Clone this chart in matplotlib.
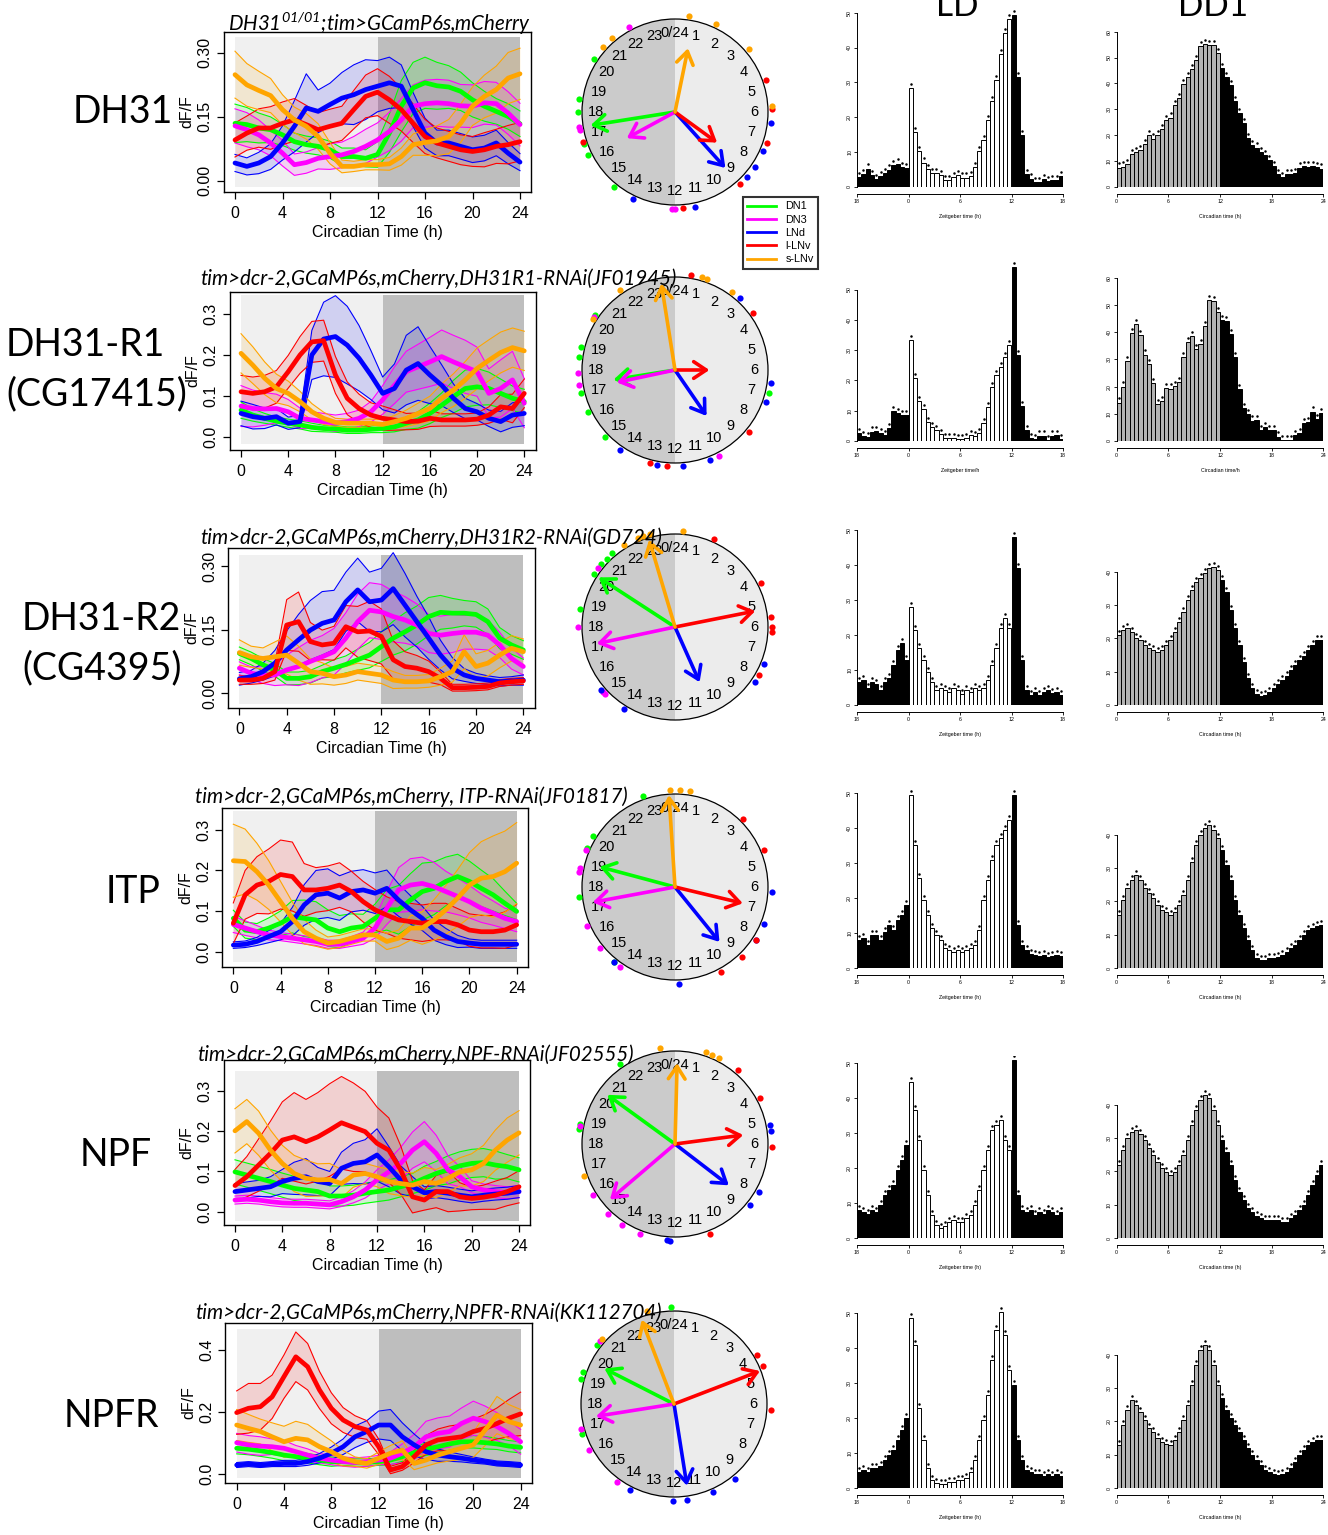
import numpy as np
import matplotlib
matplotlib.use("Agg")
import matplotlib.pyplot as plt
from matplotlib.patches import Wedge, Circle, Rectangle, FancyArrowPatch
from matplotlib.lines import Line2D
from matplotlib.transforms import ScaledTranslation

plt.rcParams['font.family'] = ['Liberation Sans', 'DejaVu Sans']
plt.rcParams['mathtext.fontset'] = 'custom'
plt.rcParams['mathtext.rm'] = 'Lato:italic'
plt.rcParams['mathtext.it'] = 'Lato:italic'

W, H = 1328, 1535
ct = np.arange(25)
cells = ["DN1", "DN3", "LNd", "l-LNv", "s-LNv"]
cell_colors = {"DN1": "#00ff00", "DN3": "#ff00ff", "LNd": "#0000ff",
               "l-LNv": "#ff0000", "s-LNv": "#ffa500"}

# ---- calcium traces: hourly mean dF/F and sem per cell group ----
dh31_mean = {
    "DN1": [0.135,0.132,0.124,0.12,0.108,0.092,0.085,0.081,0.073,0.057,0.057,0.053,0.062,0.112,0.175,0.218,0.23,0.223,0.22,0.21,0.19,0.175,0.163,0.151,0.134],
    "DN3": [0.129,0.12,0.108,0.089,0.065,0.038,0.043,0.053,0.057,0.061,0.069,0.081,0.096,0.116,0.143,0.175,0.181,0.183,0.181,0.176,0.175,0.183,0.181,0.159,0.132],
    "LNd": [0.042,0.034,0.042,0.057,0.089,0.128,0.171,0.163,0.179,0.194,0.202,0.214,0.222,0.23,0.222,0.167,0.112,0.089,0.089,0.081,0.073,0.077,0.089,0.065,0.044],
    "l-LNv": [0.096,0.112,0.124,0.124,0.135,0.143,0.132,0.12,0.128,0.135,0.167,0.198,0.208,0.19,0.167,0.135,0.104,0.089,0.081,0.073,0.069,0.073,0.081,0.085,0.092],
    "s-LNv": [0.249,0.225,0.212,0.2,0.167,0.143,0.128,0.104,0.065,0.034,0.034,0.038,0.038,0.04,0.057,0.085,0.09,0.094,0.104,0.135,0.175,0.198,0.214,0.241,0.251],
}
dh31_sem = {
    "DN1": [0.045,0.04,0.035,0.03,0.025,0.02,0.02,0.02,0.02,0.02,0.02,0.02,0.03,0.045,0.06,0.06,0.06,0.055,0.05,0.045,0.04,0.035,0.03,0.03,0.03],
    "DN3": [0.04,0.04,0.035,0.03,0.03,0.025,0.025,0.025,0.03,0.03,0.035,0.04,0.04,0.045,0.05,0.05,0.055,0.055,0.055,0.05,0.05,0.05,0.05,0.05,0.05],
    "LNd": [0.02,0.02,0.025,0.03,0.04,0.06,0.08,0.05,0.05,0.06,0.07,0.07,0.06,0.06,0.05,0.04,0.035,0.03,0.03,0.03,0.03,0.03,0.03,0.025,0.02],
    "l-LNv": [0.04,0.04,0.045,0.05,0.05,0.05,0.045,0.04,0.04,0.04,0.045,0.05,0.055,0.055,0.05,0.045,0.04,0.035,0.035,0.035,0.035,0.04,0.04,0.045,0.045],
    "s-LNv": [0.055,0.05,0.045,0.04,0.035,0.03,0.03,0.03,0.025,0.015,0.012,0.012,0.012,0.015,0.02,0.025,0.03,0.035,0.04,0.045,0.045,0.05,0.055,0.06,0.06],
}
r1_mean = {
    "DN1": [0.065,0.053,0.045,0.038,0.033,0.029,0.023,0.02,0.019,0.016,0.016,0.018,0.02,0.024,0.033,0.041,0.057,0.077,0.098,0.118,0.122,0.118,0.106,0.094,0.086],
    "DN3": [0.075,0.069,0.068,0.069,0.061,0.045,0.041,0.037,0.033,0.037,0.045,0.061,0.09,0.126,0.159,0.171,0.183,0.196,0.183,0.171,0.159,0.106,0.118,0.139,0.082],
    "LNd": [0.057,0.049,0.045,0.049,0.033,0.037,0.2,0.239,0.245,0.224,0.192,0.151,0.106,0.118,0.163,0.179,0.151,0.126,0.094,0.069,0.061,0.045,0.037,0.053,0.057],
    "l-LNv": [0.11,0.106,0.11,0.122,0.159,0.2,0.232,0.235,0.151,0.094,0.069,0.053,0.045,0.041,0.037,0.038,0.045,0.041,0.041,0.041,0.043,0.053,0.073,0.069,0.106],
    "s-LNv": [0.204,0.175,0.143,0.118,0.106,0.086,0.061,0.045,0.035,0.033,0.033,0.033,0.03,0.037,0.045,0.057,0.069,0.094,0.114,0.139,0.167,0.187,0.206,0.218,0.21],
}
r1_sem = {
    "DN1": [0.02,0.015,0.012,0.01,0.01,0.01,0.01,0.008,0.008,0.008,0.008,0.008,0.01,0.012,0.015,0.02,0.025,0.03,0.04,0.045,0.045,0.04,0.035,0.03,0.03],
    "DN3": [0.05,0.045,0.04,0.035,0.03,0.025,0.02,0.02,0.02,0.02,0.02,0.025,0.035,0.045,0.05,0.055,0.06,0.065,0.065,0.065,0.06,0.06,0.07,0.07,0.06],
    "LNd": [0.03,0.03,0.025,0.02,0.015,0.015,0.06,0.09,0.1,0.095,0.08,0.06,0.04,0.06,0.085,0.09,0.07,0.05,0.035,0.025,0.02,0.02,0.025,0.03,0.03],
    "l-LNv": [0.04,0.04,0.04,0.04,0.04,0.045,0.05,0.05,0.045,0.04,0.035,0.03,0.03,0.025,0.02,0.02,0.02,0.015,0.015,0.015,0.015,0.02,0.03,0.035,0.035],
    "s-LNv": [0.048,0.045,0.04,0.035,0.03,0.025,0.02,0.015,0.01,0.01,0.01,0.01,0.012,0.015,0.02,0.025,0.03,0.035,0.04,0.045,0.05,0.05,0.05,0.048,0.048],
}
r2_mean = {
    "DN1": [0.094,0.082,0.067,0.055,0.035,0.035,0.039,0.051,0.059,0.068,0.079,0.09,0.11,0.13,0.145,0.161,0.181,0.191,0.189,0.189,0.186,0.169,0.13,0.114,0.102],
    "DN3": [0.059,0.047,0.043,0.043,0.055,0.063,0.075,0.086,0.098,0.13,0.169,0.196,0.192,0.181,0.173,0.161,0.141,0.137,0.141,0.144,0.144,0.137,0.114,0.082,0.063],
    "LNd": [0.034,0.039,0.051,0.071,0.102,0.126,0.149,0.165,0.173,0.216,0.244,0.216,0.22,0.247,0.208,0.169,0.13,0.09,0.059,0.043,0.035,0.031,0.027,0.029,0.031],
    "l-LNv": [0.031,0.031,0.035,0.051,0.161,0.169,0.122,0.114,0.118,0.157,0.145,0.147,0.134,0.079,0.063,0.059,0.051,0.035,0.013,0.013,0.014,0.016,0.024,0.027,0.029],
    "s-LNv": [0.096,0.086,0.082,0.086,0.09,0.071,0.051,0.047,0.039,0.043,0.051,0.047,0.043,0.031,0.027,0.027,0.029,0.039,0.051,0.098,0.063,0.071,0.09,0.106,0.098],
}
r2_sem = {
    "DN1": [0.015,0.015,0.015,0.015,0.015,0.015,0.015,0.015,0.02,0.02,0.025,0.03,0.035,0.04,0.045,0.045,0.045,0.04,0.035,0.03,0.03,0.03,0.025,0.022,0.022],
    "DN3": [0.015,0.015,0.02,0.025,0.035,0.045,0.05,0.05,0.055,0.06,0.065,0.065,0.065,0.06,0.055,0.05,0.045,0.045,0.045,0.04,0.04,0.035,0.03,0.025,0.02],
    "LNd": [0.015,0.015,0.02,0.03,0.045,0.06,0.07,0.075,0.07,0.07,0.075,0.07,0.075,0.085,0.075,0.06,0.05,0.035,0.025,0.015,0.012,0.01,0.01,0.01,0.012],
    "l-LNv": [0.01,0.01,0.012,0.02,0.06,0.07,0.045,0.035,0.04,0.05,0.06,0.07,0.065,0.045,0.035,0.03,0.025,0.015,0.008,0.008,0.008,0.008,0.008,0.008,0.008],
    "s-LNv": [0.03,0.025,0.025,0.035,0.045,0.04,0.03,0.025,0.02,0.02,0.02,0.02,0.02,0.02,0.015,0.015,0.015,0.02,0.025,0.04,0.03,0.03,0.03,0.03,0.03],
}
itp_mean = {
    "DN1": [0.082,0.053,0.049,0.058,0.07,0.086,0.082,0.078,0.058,0.049,0.058,0.062,0.082,0.103,0.103,0.127,0.148,0.156,0.173,0.185,0.173,0.156,0.14,0.119,0.099],
    "DN3": [0.067,0.058,0.049,0.041,0.037,0.033,0.029,0.025,0.018,0.018,0.025,0.033,0.058,0.107,0.152,0.164,0.168,0.16,0.148,0.136,0.123,0.107,0.095,0.082,0.074],
    "LNd": [0.016,0.018,0.025,0.037,0.049,0.074,0.115,0.14,0.144,0.132,0.148,0.152,0.144,0.156,0.127,0.103,0.082,0.053,0.037,0.025,0.021,0.018,0.018,0.018,0.018],
    "l-LNv": [0.07,0.14,0.164,0.173,0.19,0.185,0.152,0.152,0.156,0.164,0.148,0.123,0.103,0.09,0.078,0.074,0.07,0.074,0.074,0.066,0.053,0.049,0.049,0.053,0.066],
    "s-LNv": [0.224,0.222,0.197,0.164,0.123,0.082,0.049,0.033,0.021,0.025,0.033,0.041,0.041,0.025,0.033,0.058,0.058,0.078,0.103,0.132,0.164,0.181,0.185,0.197,0.218],
}
itp_sem = {
    "DN1": [0.02,0.02,0.02,0.025,0.03,0.04,0.045,0.045,0.045,0.04,0.035,0.03,0.035,0.05,0.06,0.065,0.07,0.065,0.06,0.055,0.05,0.045,0.04,0.03,0.02],
    "DN3": [0.02,0.018,0.015,0.012,0.01,0.01,0.01,0.01,0.01,0.01,0.012,0.015,0.025,0.04,0.055,0.065,0.065,0.06,0.05,0.045,0.04,0.035,0.03,0.025,0.025],
    "LNd": [0.008,0.008,0.01,0.015,0.02,0.035,0.05,0.06,0.06,0.055,0.05,0.05,0.05,0.045,0.04,0.035,0.03,0.025,0.02,0.015,0.01,0.01,0.01,0.01,0.01],
    "l-LNv": [0.05,0.06,0.07,0.08,0.085,0.085,0.065,0.055,0.055,0.055,0.05,0.05,0.05,0.045,0.045,0.045,0.045,0.045,0.045,0.04,0.04,0.04,0.04,0.045,0.05],
    "s-LNv": [0.09,0.08,0.07,0.06,0.05,0.04,0.03,0.02,0.015,0.015,0.015,0.015,0.015,0.02,0.02,0.03,0.04,0.05,0.06,0.07,0.08,0.09,0.1,0.1,0.1],
}
npf_mean = {
    "DN1": [0.099,0.091,0.083,0.075,0.066,0.058,0.054,0.05,0.039,0.039,0.041,0.046,0.05,0.054,0.062,0.07,0.083,0.095,0.104,0.114,0.12,0.122,0.116,0.112,0.104],
    "DN3": [0.029,0.031,0.029,0.025,0.022,0.021,0.021,0.019,0.017,0.025,0.037,0.054,0.079,0.099,0.12,0.153,0.174,0.145,0.104,0.087,0.062,0.054,0.05,0.047,0.05],
    "LNd": [0.05,0.054,0.058,0.062,0.075,0.083,0.087,0.075,0.07,0.108,0.12,0.124,0.141,0.112,0.079,0.062,0.047,0.05,0.046,0.041,0.037,0.041,0.044,0.046,0.05],
    "l-LNv": [0.065,0.087,0.116,0.145,0.178,0.186,0.174,0.186,0.203,0.221,0.21,0.199,0.17,0.153,0.104,0.037,0.029,0.05,0.05,0.037,0.033,0.036,0.041,0.05,0.062],
    "s-LNv": [0.201,0.224,0.195,0.153,0.12,0.095,0.083,0.079,0.08,0.07,0.091,0.095,0.087,0.075,0.07,0.066,0.075,0.07,0.083,0.099,0.104,0.12,0.153,0.178,0.196],
}
npf_sem = {
    "DN1": [0.03,0.03,0.03,0.03,0.03,0.03,0.03,0.03,0.025,0.025,0.025,0.025,0.025,0.025,0.025,0.025,0.03,0.03,0.035,0.035,0.035,0.035,0.035,0.03,0.03],
    "DN3": [0.01,0.01,0.01,0.01,0.01,0.01,0.01,0.01,0.01,0.012,0.015,0.02,0.025,0.03,0.04,0.045,0.05,0.045,0.035,0.025,0.015,0.015,0.015,0.015,0.015],
    "LNd": [0.02,0.02,0.02,0.025,0.03,0.04,0.045,0.035,0.03,0.04,0.05,0.055,0.065,0.05,0.035,0.025,0.015,0.015,0.015,0.015,0.015,0.015,0.015,0.015,0.015],
    "l-LNv": [0.04,0.05,0.065,0.08,0.095,0.11,0.105,0.11,0.115,0.115,0.11,0.1,0.09,0.08,0.06,0.04,0.025,0.04,0.05,0.035,0.028,0.03,0.035,0.035,0.04],
    "s-LNv": [0.055,0.055,0.055,0.05,0.045,0.045,0.045,0.04,0.04,0.035,0.03,0.025,0.025,0.03,0.03,0.03,0.035,0.035,0.035,0.035,0.04,0.045,0.05,0.055,0.055],
}
npfr_mean = {
    "DN1": [0.083,0.08,0.075,0.069,0.061,0.056,0.051,0.045,0.04,0.04,0.037,0.037,0.04,0.045,0.056,0.069,0.08,0.088,0.097,0.104,0.104,0.101,0.097,0.09,0.086],
    "DN3": [0.101,0.094,0.09,0.088,0.083,0.072,0.061,0.051,0.045,0.04,0.037,0.04,0.045,0.051,0.067,0.088,0.12,0.131,0.137,0.163,0.18,0.169,0.153,0.131,0.104],
    "LNd": [0.029,0.032,0.029,0.032,0.034,0.034,0.04,0.051,0.067,0.088,0.12,0.137,0.158,0.158,0.12,0.094,0.072,0.061,0.056,0.051,0.045,0.04,0.034,0.032,0.029],
    "l-LNv": [0.198,0.212,0.217,0.249,0.314,0.378,0.346,0.271,0.212,0.174,0.153,0.142,0.088,0.013,0.024,0.056,0.094,0.11,0.115,0.12,0.137,0.147,0.163,0.18,0.194],
    "s-LNv": [0.158,0.147,0.137,0.12,0.104,0.115,0.11,0.088,0.072,0.051,0.04,0.034,0.051,0.067,0.077,0.034,0.045,0.061,0.072,0.083,0.094,0.142,0.19,0.169,0.158],
}
npfr_sem = {
    "DN1": [0.018,0.018,0.018,0.018,0.018,0.018,0.015,0.015,0.015,0.012,0.012,0.012,0.012,0.015,0.015,0.018,0.02,0.02,0.02,0.02,0.02,0.02,0.018,0.018,0.018],
    "DN3": [0.03,0.03,0.03,0.025,0.025,0.02,0.02,0.015,0.015,0.015,0.015,0.015,0.015,0.02,0.03,0.04,0.05,0.05,0.05,0.05,0.055,0.05,0.045,0.04,0.04],
    "LNd": [0.008,0.008,0.008,0.008,0.01,0.01,0.012,0.015,0.02,0.025,0.035,0.035,0.045,0.05,0.045,0.035,0.025,0.02,0.015,0.012,0.01,0.008,0.008,0.008,0.008],
    "l-LNv": [0.07,0.08,0.075,0.07,0.07,0.08,0.075,0.06,0.05,0.04,0.035,0.03,0.025,0.012,0.012,0.02,0.03,0.035,0.04,0.04,0.04,0.045,0.05,0.06,0.07],
    "s-LNv": [0.05,0.045,0.04,0.045,0.05,0.055,0.05,0.045,0.035,0.025,0.015,0.015,0.02,0.025,0.03,0.02,0.02,0.025,0.03,0.035,0.04,0.05,0.06,0.055,0.05],
}

# ---- phase clocks: (mean phase in h, vector length) and single-fly phases ----
dh31_vec = {"DN1": (17.4, 0.92), "DN3": (16.1, 0.59), "LNd": (9.2, 0.81), "l-LNv": (8.4, 0.56), "s-LNv": (0.77, 0.70)}
r1_vec = {"DN1": (17.4, 0.67), "DN3": (17.2, 0.64), "LNd": (9.7, 0.60), "l-LNv": (6.0, 0.37), "s-LNv": (23.4, 0.94)}
r2_vec = {"DN1": (20.2, 0.98), "DN3": (17.2, 0.86), "LNd": (10.4, 0.65), "l-LNv": (5.25, 0.88), "s-LNv": (22.9, 0.98)}
itp_vec = {"DN1": (19.0, 0.84), "DN3": (17.3, 0.90), "LNd": (9.4, 0.76), "l-LNv": (6.9, 0.75), "s-LNv": (23.75, 0.99)}
npf_vec = {"DN1": (20.4, 0.90), "DN3": (15.3, 0.92), "LNd": (8.5, 0.73), "l-LNv": (5.5, 0.74), "s-LNv": (0.1, 0.87)}
npfr_vec = {"DN1": (19.8, 0.84), "DN3": (17.4, 0.85), "LNd": (11.4, 0.89), "l-LNv": (4.6, 0.99), "s-LNv": (22.6, 0.97)}

dh31_phases = {"DN1": [20.2, 18.5, 18.0, 16.7, 16.25, 14.6], "DN3": [22.1, 17.4, 17.3, 12.1, 12.0],
               "LNd": [6.45, 7.6, 8.3, 8.8, 11.2, 13.7], "l-LNv": [4.7, 5.9, 7.25, 9.2, 11.7, 16.8],
               "s-LNv": [0.56, 1.67, 3.3, 5.75, 21.3, 20.8]}
r1_phases = {"DN1": [20.3, 18.9, 18.5, 17.1, 16.3, 15.1, 6.9], "DN3": [10.2, 17.9, 17.4, 20.2],
             "LNd": [2.8, 6.5, 7.3, 10.6, 11.7, 12.7, 14.3], "l-LNv": [0.64, 3.6, 8.65, 13.0, 12.3],
             "s-LNv": [1.1, 1.3, 2.4, 21.7, 20.1]}
r2_phases = {"DN1": [18.7, 20.2, 20.7, 21.0, 21.3], "DN3": [18.0, 15.2, 15.1, 20.5],
             "LNd": [7.5, 8.3, 14.1, 15.3], "l-LNv": [1.6, 4.2, 5.6, 6.0, 6.2, 8.0],
             "s-LNv": [0.3, 21.9, 22.5, 22.7, 23.0]}
itp_phases = {"DN1": [20.1, 19.6, 17.6, 14.6, 22.7], "DN3": [18.75, 18.6, 16.4, 15.4, 14.3, 19.5],
              "LNd": [6.2, 7.5, 8.2, 11.85, 14.6], "l-LNv": [3.0, 4.5, 8.2, 9.1, 10.1],
              "s-LNv": [23.8, 0.2, 0.6]}
npf_phases = {"DN1": [21.7, 18.8, 18.6], "DN3": [18.7, 15.9, 14.9, 14.2, 13.4],
              "LNd": [5.25, 5.5, 8.0, 8.6, 12.3, 12.2], "l-LNv": [2.7, 4.1, 6.1, 10.6],
              "s-LNv": [23.4, 1.24, 1.5, 1.8, 16.7]}
npfr_phases = {"DN1": [23.9, 20.5, 19.3, 19.0, 16.8], "DN3": [20.7, 17.0, 16.1, 14.4],
               "LNd": [9.4, 10.4, 11.5, 12.05, 13.8], "l-LNv": [3.96, 4.47, 6.25],
               "s-LNv": [20.8, 22.9]}

# ---- locomotor activity histograms (48 half-hour bins) ----
dh31_ld = [2.9,3.6,5.3,3.4,2.2,3.2,4.0,5.0,6.4,6.7,5.7,5.5, 28.4,15.8,10.3,7.0,5.1,4.0,4.1,3.4,2.1,2.1,2.9,3.3,
           2.7,2.7,3.2,5.7,10.3,13.4,19.3,24.6,30.7,38.1,44.1,48.2, 49.2,31.6,14.9,3.8,2.4,1.4,1.4,2.2,1.6,2.1,2.1,3.2]
dh31_dd = [7.5,7.9,9.0,12.6,13.6,14.4,16.7,19.9,18.7,20.1,22.3,25.7, 26.8,31.5,34.2,39.6,42.5,45.4,49.0,54.4,55.1,54.7,54.7,51.6,
           45.8,42.5,39.3,33.2,28.7,24.6,19.0,16.2,15.2,13.6,12.2,10.4, 8.1,5.1,3.9,4.9,5.1,5.5,7.5,8.1,7.9,8.1,7.7,7.1]
r1_ld = [2.5,1.6,1.2,3.1,3.4,2.5,2.0,4.2,9.9,9.1,8.6,8.6, 33.3,20.7,13.2,10.4,6.2,4.5,3.6,2.3,1.1,1.1,1.1,0.5,
         0.5,1.1,2.0,1.6,2.7,5.8,11.3,17.9,21.8,24.5,27.8,31.6, 57.3,28.4,11.5,3.6,0.9,0.5,1.8,1.8,0.3,1.8,2.0,0.5]
r1_dd = [14.1,20.0,29.5,39.8,43.0,38.9,31.8,28.3,21.2,13.5,14.8,19.6, 19.3,20.3,21.8,31.0,36.5,38.6,33.7,35.6,42.4,51.8,51.5,47.5,
         44.4,44.1,39.2,31.0,19.0,12.0,9.8,7.5,7.7,4.0,5.0,4.0, 4.0,1.6,0.4,0.4,0.4,2.2,2.8,6.7,7.1,10.8,8.0,10.2]
r2_ld = [6.6,7.1,4.9,6.6,6.0,4.3,6.6,7.7,11.4,15.7,17.7,12.9, 28.0,21.4,16.3,12.9,9.4,6.6,4.3,4.9,4.3,3.7,4.9,4.3,
         3.1,4.3,3.7,4.9,4.3,4.9,7.1,11.4,16.3,22.0,24.9,22.0, 48.0,39.1,12.9,4.3,2.9,3.7,2.9,3.7,4.3,3.4,3.7,2.9]
r2_dd = [21.0,22.5,23.1,21.9,20.1,19.5,18.0,17.1,16.5,15.9,16.5,18.0, 19.5,21.9,24.9,27.9,31.5,34.5,36.9,38.1,39.6,41.1,41.4,40.5,
         37.5,33.9,28.5,23.1,18.0,12.9,8.1,5.1,3.3,2.7,3.0,3.9, 5.1,6.3,7.5,8.7,10.5,12.0,13.5,14.7,16.5,18.0,19.5,19.5]
itp_ld = [8.0,8.6,6.6,9.4,9.4,8.0,10.3,12.3,10.9,13.7,15.1,18.0, 49.4,35.1,25.7,19.4,15.1,11.4,9.4,8.0,5.7,5.1,4.6,5.1,
          4.6,5.1,5.7,6.6,10.9,19.4,25.1,30.9,35.1,37.1,39.4,42.3, 49.4,12.3,6.6,5.1,4.0,3.7,3.4,3.7,3.1,3.4,3.7,3.4]
itp_dd = [15.9,20.4,24.0,26.4,27.9,26.4,24.0,22.5,21.0,18.9,17.4,16.8, 15.9,16.8,18.9,21.9,26.4,31.8,36.9,39.9,42.0,42.9,41.4,39.0,
          35.4,30.9,26.4,20.4,15.9,12.0,8.4,5.4,3.0,2.4,2.4,3.0, 3.0,3.3,3.9,4.8,6.0,6.9,8.4,9.9,11.4,12.0,12.6,12.9]
npf_ld = [8.0,7.4,6.9,8.0,7.4,9.4,12.3,13.7,15.1,19.4,22.3,26.6, 44.6,36.6,28.0,19.4,12.3,6.6,3.7,2.9,3.4,4.6,5.1,4.6,
          4.6,5.7,6.6,9.4,13.7,19.4,25.1,30.9,32.3,33.7,28.0,25.1, 50.9,12.3,8.0,7.4,8.0,6.6,7.4,6.9,8.0,7.4,6.6,7.4]
npf_dd = [21.9,26.4,30.0,31.8,32.4,31.2,29.4,27.0,24.9,22.8,21.0,19.8, 18.9,19.8,21.9,24.9,29.4,33.9,38.4,41.4,42.9,42.0,38.4,33.9,
          29.4,25.8,21.9,17.4,13.8,11.4,9.0,7.8,6.6,6.0,5.4,5.4, 5.4,5.4,4.8,4.8,6.0,6.9,8.4,9.9,12.9,15.9,18.9,21.9]
npfr_ld = [4.6,5.1,4.6,5.7,5.7,6.3,8.0,9.4,10.9,13.7,16.6,20.0, 48.6,40.9,22.9,13.7,5.7,2.3,1.4,1.1,1.1,1.7,1.7,2.3,
           2.3,2.9,4.6,8.0,13.7,19.4,26.6,36.6,45.1,50.3,43.7,33.7, 29.4,13.7,8.0,5.1,4.6,4.0,4.0,3.4,4.0,3.4,4.0,3.4]
npfr_dd = [12.9,18.9,23.4,26.4,24.9,22.8,20.4,18.0,16.8,15.0,13.8,13.2, 12.9,14.4,16.8,20.4,24.9,30.9,36.9,41.4,42.9,41.4,36.9,30.9,
           27.0,23.4,21.0,18.9,16.8,14.4,12.0,9.9,8.4,6.9,5.4,4.8, 4.2,3.9,4.2,4.8,6.0,7.8,9.9,11.4,12.9,13.8,14.4,14.4]

row_names = ["DH31", "DH31-R1\n(CG17415)", "DH31-R2\n(CG4395)", "ITP", "NPF", "NPFR"]
titles = [r"DH31$^{01/01}$;tim>GCamP6s,mCherry",
          "tim>dcr-2,GCaMP6s,mCherry,DH31R1-RNAi(JF01945)",
          "tim>dcr-2,GCaMP6s,mCherry,DH31R2-RNAi(GD724)",
          "tim>dcr-2,GCaMP6s,mCherry, ITP-RNAi(JF01817)",
          "tim>dcr-2,GCaMP6s,mCherry,NPF-RNAi(JF02555)",
          "tim>dcr-2,GCaMP6s,mCherry,NPFR-RNAi(KK112704)"]
means = [dh31_mean, r1_mean, r2_mean, itp_mean, npf_mean, npfr_mean]
sems = [dh31_sem, r1_sem, r2_sem, itp_sem, npf_sem, npfr_sem]
vecs = [dh31_vec, r1_vec, r2_vec, itp_vec, npf_vec, npfr_vec]
phases = [dh31_phases, r1_phases, r2_phases, itp_phases, npf_phases, npfr_phases]
ld_counts = [dh31_ld, r1_ld, r2_ld, itp_ld, npf_ld, npfr_ld]
dd_counts = [dh31_dd, r1_dd, r2_dd, itp_dd, npf_dd, npfr_dd]

# y tick sets per trace panel
ytick_sets = [([0, 0.15, 0.30], ["0.00", "0.15", "0.30"]),
              ([0, 0.1, 0.2, 0.3], ["0.0", "0.1", "0.2", "0.3"]),
              ([0, 0.15, 0.30], ["0.00", "0.15", "0.30"]),
              ([0, 0.1, 0.2, 0.3], ["0.0", "0.1", "0.2", "0.3"]),
              ([0, 0.1, 0.2, 0.3], ["0.0", "0.1", "0.2", "0.3"]),
              ([0, 0.2, 0.4], ["0.0", "0.2", "0.4"])]

# layout in pixels
trace_boxes = [(223.6, 32, 531.4, 192), (229.7, 292, 535.6, 450), (228, 548, 534.7, 708),
               (222, 808, 528, 967), (223.6, 1060, 530.4, 1225), (225.3, 1323, 532, 1483)]
trace_ylims = [(-0.026, 0.349), (-0.0325, 0.354), (-0.035, 0.343),
               (-0.038, 0.354), (-0.033, 0.377), (-0.029, 0.487)]
shade_spans = [(-0.014, 0.3375), (-0.0186, 0.346), (-0.025, 0.327),
               (-0.025, 0.346), (-0.022, 0.35), (-0.014, 0.468)]
title_pos = [(228, 24), (200, 279), (200, 538), (195, 797), (197, 1055), (195, 1313)]
# (x, y, horizontal alignment) of the row names
label_pos = [(123, 112, "center"), (6, 370, "left"), (22, 644, "left"),
             (133, 892, "center"), (116, 1155, "center"), (111, 1416, "center")]
clock_centers = [(675, 112), (675, 370), (675, 627), (675, 887), (675, 1144), (674, 1404)]
clock_r = 93
hist_base = [187, 441, 705, 968, 1238, 1488]
ld_scale = [3.486, 3.03, 3.5, 3.5, 3.5, 3.5]
ld_ymax = [52, 60, 52, 52, 52, 52]
dd_scale = [2.59, 2.72, 3.33, 3.33, 3.33, 3.33]
dd_ymax = [62, 60, 50, 50, 50, 50]
dd_ticks = [60, 60, 40, 40, 40, 40]

fig = plt.figure(figsize=(W / 100, H / 100), dpi=100)


def px_axes(l, t, r, b):
    return fig.add_axes([l / W, 1 - b / H, (r - l) / W, (b - t) / H])


def draw_trace(ax, m_dict, s_dict, ylim, shade, yt):
    ax.set_xlim(-0.96, 24.96)
    ax.set_ylim(*ylim)
    ax.add_patch(Rectangle((0, shade[0]), 12, shade[1] - shade[0], fc="#f0f0f0", lw=0, zorder=0))
    ax.add_patch(Rectangle((12, shade[0]), 12, shade[1] - shade[0], fc="#bebebe", lw=0, zorder=0))
    for c in cells:
        m = np.array(m_dict[c])
        s = np.array(s_dict[c])
        ax.fill_between(ct, m - s, m + s, color=cell_colors[c], alpha=0.13, lw=0, zorder=1)
        ax.plot(ct, m - s, color=cell_colors[c], lw=0.8, zorder=2)
        ax.plot(ct, m + s, color=cell_colors[c], lw=0.8, zorder=2)
    for c in cells:
        ax.plot(ct, m_dict[c], color=cell_colors[c], lw=3.4, zorder=3, solid_capstyle="round")
    ax.set_xticks(range(0, 25, 4))
    ax.set_yticks(yt[0])
    ax.set_yticklabels(yt[1], rotation=90, va="center")
    ax.tick_params(direction="out", length=5, width=0.9, labelsize=11.5, pad=3)
    ax.tick_params(axis="x", pad=5)
    for sp in ax.spines.values():
        sp.set_linewidth(1.0)
    ax.set_xlabel("Circadian Time (h)", fontsize=11.5, labelpad=3)
    ax.set_ylabel("dF/F", fontsize=11.5, labelpad=2)


def draw_clock(ax, vec, ph):
    ax.set_xlim(-1.25, 1.25)
    ax.set_ylim(-1.25, 1.25)
    ax.set_aspect("equal")
    ax.axis("off")
    ax.add_patch(Wedge((0, 0), 1, 90, 270, fc="#cbcbcb", lw=0))
    ax.add_patch(Wedge((0, 0), 1, -90, 90, fc="#ececec", lw=0))
    ax.add_patch(Circle((0, 0), 1, fc="none", ec="black", lw=0.9))
    for h in range(24):
        a = 2 * np.pi * h / 24
        ax.text(0.85 * np.sin(a), 0.85 * np.cos(a), "0/24" if h == 0 else str(h),
                ha="center", va="center", fontsize=10.5)
    for c in cells:
        a = 2 * np.pi * np.array(ph[c]) / 24
        ax.scatter(1.04 * np.sin(a), 1.04 * np.cos(a), s=20, color=cell_colors[c],
                   lw=0, zorder=4, clip_on=False)
    for c in cells:
        h, L = vec[c]
        a = 2 * np.pi * h / 24
        ax.add_patch(FancyArrowPatch((0, 0), (L * np.sin(a), L * np.cos(a)),
                                     arrowstyle="->,head_length=0.45,head_width=0.3",
                                     mutation_scale=20, lw=2.6, color=cell_colors[c],
                                     shrinkA=0, shrinkB=0, zorder=3))


def draw_hist(ax, vals, fills, ymax, top_tick, xticklabels, xlabel):
    x = np.arange(48) * 0.5
    ax.bar(x, vals, width=0.5, align="edge", color=fills, edgecolor="black", lw=0.7)
    lift = ax.transData + ScaledTranslation(0, 3 / 72, fig.dpi_scale_trans)
    ax.plot(x + 0.25, vals, ls="none", marker=".", ms=1.6, color="black", transform=lift)
    ax.set_xlim(0, 24)
    ax.set_ylim(0, ymax)
    for s in ["top", "right"]:
        ax.spines[s].set_visible(False)
    ax.spines["bottom"].set_position(("outward", 5))
    ax.spines["left"].set_bounds(0, top_tick)
    ax.spines["left"].set_linewidth(0.7)
    ax.spines["bottom"].set_linewidth(0.7)
    ax.set_xticks([0, 6, 12, 18, 24])
    ax.set_xticklabels(xticklabels)
    yt = np.arange(0, top_tick + 1, 10)
    ax.set_yticks(yt)
    ax.set_yticklabels([str(int(v)) for v in yt], rotation=90, va="center")
    ax.tick_params(length=2, width=0.6, labelsize=3.8, pad=1.5)
    ax.set_xlabel(xlabel, fontsize=3.8, labelpad=7)


for i in range(6):
    l, t, r, b = trace_boxes[i]
    ax = px_axes(l, t, r, b)
    draw_trace(ax, means[i], sems[i], trace_ylims[i], shade_spans[i], ytick_sets[i])

    tx, ty = title_pos[i]
    fig.text(tx / W, 1 - ty / H, titles[i], ha="left", va="center", fontsize=14.8,
             family="Lato", style="italic")
    lx, ly, lha = label_pos[i]
    fig.text(lx / W, 1 - ly / H, row_names[i], ha=lha, va="center", fontsize=27,
             family="Lato", linespacing=1.45, multialignment="left")

    cx, cy = clock_centers[i]
    half = 1.25 * clock_r
    cax = px_axes(cx - half, cy - half, cx + half, cy + half)
    draw_clock(cax, vecs[i], phases[i])

    base = hist_base[i]
    lax = px_axes(857, base - ld_ymax[i] * ld_scale[i], 1063, base)
    ld_fill = ["black"] * 12 + ["white"] * 24 + ["black"] * 12
    draw_hist(lax, ld_counts[i], ld_fill, ld_ymax[i], 50, ["18", "0", "6", "12", "18"],
              "Zeitgeber time/h" if i == 1 else "Zeitgeber time (h)")
    dax = px_axes(1116.7, base - dd_ymax[i] * dd_scale[i], 1323.3, base)
    dd_fill = ["#b3b3b3"] * 24 + ["black"] * 24
    draw_hist(dax, dd_counts[i], dd_fill, dd_ymax[i], dd_ticks[i], ["0", "6", "12", "18", "24"],
              "Circadian time/h" if i == 1 else "Circadian time (h)")

# legend for the cell groups
handles = [Line2D([], [], color=cell_colors[c], lw=2) for c in cells]
leg = fig.legend(handles, cells, loc="upper left", bbox_to_anchor=(743 / W, 1 - 197 / H),
                 fontsize=7.8, frameon=True, fancybox=False, edgecolor="black",
                 handlelength=2.6, handletextpad=0.9, borderpad=0.4, labelspacing=0.3,
                 borderaxespad=0)
leg.get_frame().set_linewidth(1.5)

# column headers sit partly above the top edge
fig.text(957 / W, 1 - 16 / H, "LD", ha="center", va="baseline", fontsize=24, family="Lato")
fig.text(1213 / W, 1 - 16 / H, "DD1", ha="center", va="baseline", fontsize=24, family="Lato")

fig.savefig("out.png", dpi=100)
